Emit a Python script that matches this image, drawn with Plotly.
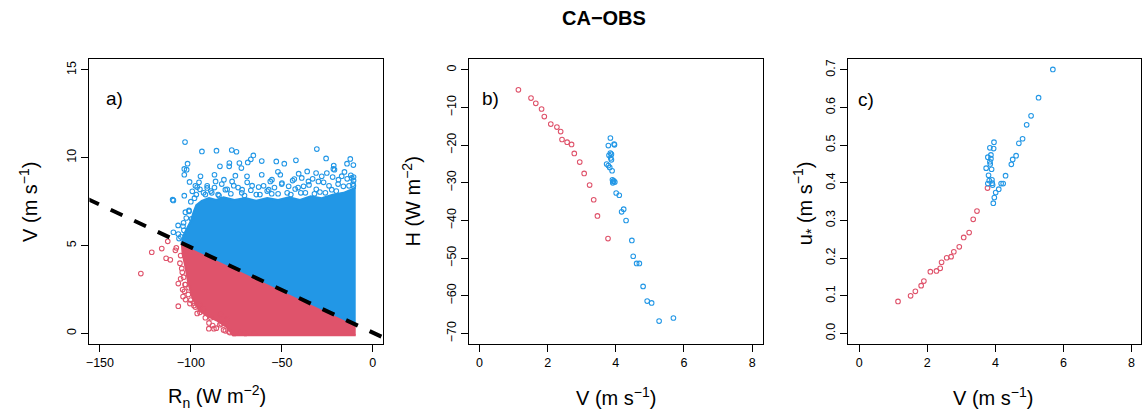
import plotly.graph_objects as go

W, H = 1142, 413
FONT = "Liberation Sans, Arial, Helvetica, sans-serif"
BLUE = "#2297E6"
RED = "#DF536B"

# ---------------- Panel a data ----------------
# Saturated cores of the two dense point clouds (outline of the solid-coloured regions)
BLUE_CORE_X = [-9.3, -105.0, -104.0, -102.0, -100.0, -98.5, -97.0, -94.0, -90.0, -86.0, -82.0,
               -76.0, -70.0, -64.0, -58.0, -52.0, -46.0, -40.0, -34.0, -28.0, -22.0, -16.0, -12.0, -9.3]
BLUE_CORE_Y = [0.50, 5.14, 5.6, 6.0, 6.4, 6.9, 7.3, 7.55, 7.7, 7.6, 7.75,
               7.6, 7.7, 7.55, 7.7, 7.6, 7.75, 7.6, 7.8, 7.7, 7.9, 8.0, 8.2, 8.3]
RED_CORE_X = [-9.3, -105.0, -104.5, -103.0, -101.5, -99.0, -95.5, -91.0, -86.0, -80.0, -77.0, -9.3]
RED_CORE_Y = [0.50, 5.14, 4.5, 3.8, 2.9, 2.0, 1.3, 1.0, 0.75, 0.35, -0.1, -0.1]

# Sparse points outside the saturated cores
BLUE_PTS_X = [-103.2, -93.9, -85.9, -77.5, -74.9, -30.7, -25.6, -65.6, -67.0, -68.7, -61.0, -53.0,
              -48.6, -42.2, -73.3, -72.2, -78.8, -78.9, -84.0, -101.8, -103.6, -102.3, -103.6,
              -94.7, -100.7, -110.0, -103.6, -14.1, -12.3, -10.6, -21.4, -21.0, -15.5, -25.2,
              -36.0, -40.7, -43.1, -52.1, -50.8, -56.3, -61.0, -69.1, -81.8, -87.0, -75.5,
              -95.5, -35.3, -31.1, -109.6, -107.0, -104.3, -103.8, -109.6, -106.9, -102.5,
              -99.6, -101.0, -99.2, -96.5, -91.0, -86.4, -77.3, -76.4, -66.3, -62.7, -55.4,
              -49.9, -46.2, -39.0, -38.0, -29.8, -28.0, -21.6, -18.8, -11.5, -10.6, -16.1,
              -57.2, -42.6, -22.5, -71.8, -81.0,
              -97.0, -95.0, -93.0, -91.0, -89.0, -87.0, -85.0, -83.0, -80.0, -78.0, -74.0, -72.0,
              -69.0, -67.0, -64.0, -60.0, -58.0, -54.0, -52.0, -50.0, -47.0, -44.0, -41.0, -37.0,
              -35.0, -33.0, -31.0, -29.0, -27.0, -24.0, -22.0, -19.0, -17.0, -14.0, -12.0, -10.5,
              -101.0, -100.0, -98.0, -104.0, -105.5, -106.5, -103.0, -97.5, -92.0, -88.5, -84.5,
              -70.5, -62.0, -55.5, -45.0, -39.5, -32.0, -26.0, -20.0, -13.0, -10.8, -10.5]
BLUE_PTS_Y = [10.89, 10.36, 10.40, 10.44, 10.34, 10.49, 9.96, 10.13, 9.91, 9.73, 9.81, 9.79,
              9.66, 9.85, 9.70, 9.41, 9.70, 9.51, 9.51, 9.66, 9.36, 9.32, 9.03,
              8.94, 8.62, 7.61, 7.84, 9.66, 9.93, 9.58, 9.55, 9.32, 9.19, 9.13,
              9.22, 9.09, 8.79, 9.20, 9.03, 8.65, 9.03, 8.94, 8.75, 9.03, 8.98,
              8.60, 8.65, 9.13, 7.57, 6.15, 6.10, 5.87, 5.76, 5.66, 6.57,
              6.52, 6.95, 8.09, 8.33, 8.28, 8.65, 8.65, 8.41, 8.41, 8.33, 8.75,
              8.56, 8.37, 8.85, 8.37, 8.65, 8.94, 9.36, 8.75, 8.85, 8.41, 8.37,
              8.18, 8.22, 8.18, 8.18, 8.18,
              7.9, 8.2, 8.0, 8.4, 8.1, 8.3, 7.9, 8.5, 8.2, 7.95, 8.3, 8.0,
              8.6, 8.15, 7.9, 8.4, 8.1, 8.3, 7.95, 8.5, 8.0, 8.7, 8.3, 8.0,
              8.45, 8.8, 8.2, 8.05, 8.6, 8.4, 8.9, 8.5, 8.95, 8.8, 9.0, 8.7,
              7.0, 7.5, 7.7, 6.3, 5.5, 5.4, 6.9, 8.4, 7.9, 8.0, 7.85,
              7.85, 7.9, 7.95, 7.9, 8.0, 7.95, 8.0, 8.1, 8.4, 8.5, 8.9]
RED_PTS_X = [-112.7, -121.5, -116.0, -113.6, -111.3, -127.5, -108.5, -108.0, -105.6, -104.7,
             -105.6, -106.9, -102.9, -101.4, -102.9, -106.9, -98.3, -96.5, -95.2, -90.1,
             -87.3, -83.7, -80.0, -104.5, -100.5, -93.0, -89.0, -84.0, -81.0, -78.5,
             -98.5, -83.3, -103.2, -104.3,
             -106.0, -105.0, -104.0, -103.5, -101.0, -100.0, -97.5, -95.0, -92.0, -90.0,
             -88.0, -86.0, -82.0, -79.0, -76.0, -73.0, -70.0, -65.0]
RED_PTS_Y = [5.24, 4.62, 4.83, 4.28, 4.19, 3.41, 4.73, 4.87, 4.43, 3.48,
             3.11, 2.84, 2.78, 2.22, 1.93, 1.55, 1.59, 1.14, 1.65, 0.27,
             0.27, 1.08, 0.80, 2.50, 1.70, 1.40, 0.90, 0.50, 0.15, 0.05,
             1.74, 0.55, 2.78, 2.10,
             4.0, 3.7, 3.2, 2.4, 2.6, 1.9, 1.5, 1.2, 0.9, 0.6,
             0.45, 0.3, 0.2, 0.1, 0.0, 0.05, 0.0, 0.02]

# Separating line V = a + b * Rn
FIT_COEF = [0.05, -0.0485]
LINE_X = [-170.0, 20.0]

# ---------------- Panels b and c data ----------------
RED_V = [1.14, 1.51, 1.65, 1.82, 1.90, 2.09, 2.27, 2.38, 2.42, 2.57, 2.70, 2.78, 2.94, 3.07,
         3.23, 3.35, 3.46, 3.77]
RED_H = [-5.3, -7.5, -8.9, -10.4, -12.4, -14.4, -15.2, -16.4, -18.5, -19.2, -19.8, -22.2, -24.5,
         -27.5, -30.6, -34.5, -38.8, -44.8]
RED_U = [0.085, 0.100, 0.112, 0.127, 0.139, 0.164, 0.166, 0.173, 0.189, 0.201, 0.204, 0.217,
         0.230, 0.255, 0.268, 0.303, 0.325, 0.386]

BLUE_V = [5.69, 5.27, 5.05, 4.92, 4.80, 4.69, 4.61, 4.51, 4.47, 4.30, 4.23, 4.17, 4.10, 4.01,
          3.84, 3.78, 3.95, 3.96, 3.84, 3.87, 3.80, 3.85, 3.87, 3.73, 3.78, 3.82, 3.89, 3.90,
          3.92, 3.91, 3.94, 3.97]
BLUE_H = [-65.9, -66.7, -61.9, -61.4, -57.5, -51.4, -51.4, -49.5, -45.3, -40.0, -37.0, -37.7,
          -33.3, -32.7, -18.1, -20.1, -19.7, -19.9, -22.1, -22.4, -22.7, -23.4, -23.9, -25.0,
          -25.4, -25.9, -26.8, -29.2, -29.6, -30.0, -29.5, -29.8]
BLUE_U = [0.701, 0.626, 0.578, 0.554, 0.517, 0.505, 0.472, 0.462, 0.449, 0.419, 0.398, 0.398,
          0.383, 0.374, 0.493, 0.468, 0.491, 0.508, 0.456, 0.474, 0.420, 0.450, 0.464, 0.439,
          0.398, 0.406, 0.436, 0.408, 0.394, 0.399, 0.346, 0.361]

# ---------------- Figure ----------------
fig = go.Figure()


def mk(color):
    return dict(symbol="circle-open", size=4.6, color=color, line=dict(width=1.1, color=color))


# panel a
fig.add_trace(go.Scatter(x=RED_CORE_X, y=RED_CORE_Y, fill="toself", fillcolor=RED, mode="lines",
                         line=dict(color=RED, width=2), xaxis="x", yaxis="y", hoverinfo="skip"))
fig.add_trace(go.Scatter(x=RED_PTS_X, y=RED_PTS_Y, mode="markers", marker=mk(RED), xaxis="x", yaxis="y"))
fig.add_trace(go.Scatter(x=BLUE_CORE_X, y=BLUE_CORE_Y, fill="toself", fillcolor=BLUE, mode="lines",
                         line=dict(color=BLUE, width=2), xaxis="x", yaxis="y", hoverinfo="skip"))
fig.add_trace(go.Scatter(x=BLUE_PTS_X, y=BLUE_PTS_Y, mode="markers", marker=mk(BLUE), xaxis="x", yaxis="y"))
line_y = [FIT_COEF[0] + FIT_COEF[1] * x for x in LINE_X]
fig.add_trace(go.Scatter(x=LINE_X, y=line_y, mode="lines",
                         line=dict(color="black", width=4, dash="13px,13px"), xaxis="x", yaxis="y"))

# panel b
fig.add_trace(go.Scatter(x=RED_V, y=RED_H, mode="markers", marker=mk(RED), xaxis="x2", yaxis="y2"))
fig.add_trace(go.Scatter(x=BLUE_V, y=BLUE_H, mode="markers", marker=mk(BLUE), xaxis="x2", yaxis="y2"))

# panel c
fig.add_trace(go.Scatter(x=RED_V, y=RED_U, mode="markers", marker=mk(RED), xaxis="x3", yaxis="y3"))
fig.add_trace(go.Scatter(x=BLUE_V, y=BLUE_U, mode="markers", marker=mk(BLUE), xaxis="x3", yaxis="y3"))

ydom = [(H - 344.0) / H, (H - 59.3) / H]
boxes = [(86.7, 381.7), (467.3, 762.7), (848.3, 1142.0)]

axis_common = dict(showline=True, mirror=True, linecolor="black", linewidth=1, ticks="outside",
                   ticklen=7, tickwidth=1, tickcolor="black", showgrid=False, zeroline=False,
                   tickfont=dict(family=FONT, size=12.5, color="black"))

fig.update_layout(
    width=W, height=H, margin=dict(l=0, r=0, t=0, b=0), showlegend=False,
    paper_bgcolor="white", plot_bgcolor="white",
    xaxis=dict(domain=[boxes[0][0] / W, boxes[0][1] / W], range=[-155.8, 5.9],
               tickvals=[-150, -100, -50, 0], anchor="y", **axis_common),
    yaxis=dict(domain=ydom, range=[-0.6, 15.6], tickvals=[0, 5, 10, 15], tickangle=-90,
               anchor="x", **axis_common),
    xaxis2=dict(domain=[boxes[1][0] / W, boxes[1][1] / W], range=[-0.32, 8.32],
                tickvals=[0, 2, 4, 6, 8], anchor="y2", **axis_common),
    yaxis2=dict(domain=ydom, range=[-72.8, 2.8], tickvals=[0, -10, -20, -30, -40, -50, -60, -70],
                tickangle=-90, anchor="x2", **axis_common),
    xaxis3=dict(domain=[boxes[2][0] / W, boxes[2][1] / W], range=[-0.32, 8.28],
                tickvals=[0, 2, 4, 6, 8], anchor="y3", **axis_common),
    yaxis3=dict(domain=ydom, range=[-0.028, 0.728], tickvals=[0, 0.1, 0.2, 0.3, 0.4, 0.5, 0.6, 0.7],
                ticktext=["0.0", "0.1", "0.2", "0.3", "0.4", "0.5", "0.6", "0.7"],
                tickangle=-90, anchor="x3", **axis_common),
)


def ann(text, px, py, size, angle=0, bold=False):
    if bold:
        text = "<b>" + text + "</b>"
    fig.add_annotation(text=text, x=px / W, y=1 - py / H, xref="paper", yref="paper",
                       showarrow=False, xanchor="center", yanchor="middle", textangle=angle,
                       font=dict(family=FONT, size=size, color="black"))


ann("CA−OBS", 603, 18, 20, bold=True)
ann("a)", 112, 98, 19)
ann("b)", 489, 98, 19)
ann("c)", 866, 99, 19)
ann("R<sub>n</sub> (W m<sup>−2</sup>)", 215, 396, 20)
ann("V (m s<sup>−1</sup>)", 615, 396, 20)
ann("V (m s<sup>−1</sup>)", 993, 396, 20)
ann("V (m s<sup>−1</sup>)", 25, 202, 20, angle=-90)
ann("H (W m<sup>−2</sup>)", 409, 202, 20, angle=-90)
ann("u<sub>*</sub> (m s<sup>−1</sup>)", 804, 203, 20, angle=-90)

fig.write_html("out.html")
